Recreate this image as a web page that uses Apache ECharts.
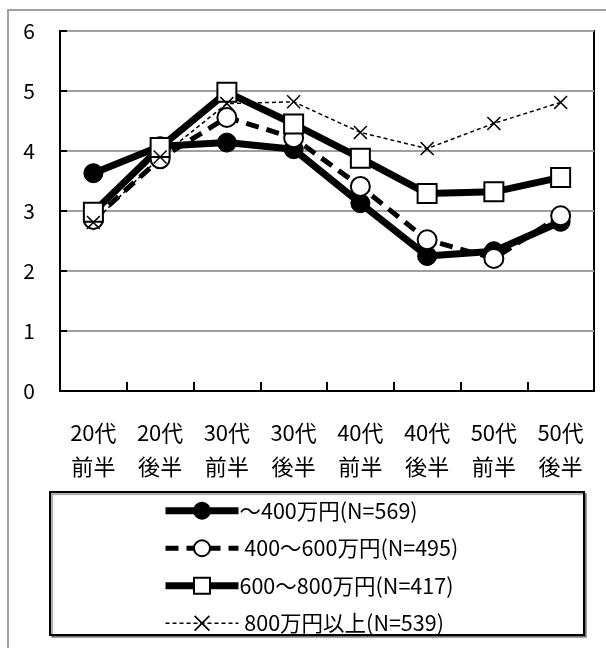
<!DOCTYPE html>
<html><head><meta charset="utf-8">
<script src="https://cdn.jsdelivr.net/npm/echarts@6/dist/echarts.min.js"></script>
<style>html,body{margin:0;padding:0;background:#fff}#c{width:606px;height:648px}</style>
</head><body><div id="c"></div>
<script>
const categories = ['20代\n前半','20代\n後半','30代\n前半','30代\n後半','40代\n前半','40代\n後半','50代\n前半','50代\n後半'];
const seriesNames = ['～400万円(N=569)',' 400～600万円(N=495)','600～800万円(N=417)',' 800万円以上(N=539)'];
const s1 = [3.63, 4.08, 4.14, 4.03, 3.13, 2.25, 2.33, 2.82];
const s2 = [2.86, 3.87, 4.56, 4.22, 3.41, 2.52, 2.21, 2.92];
const s3 = [2.98, 4.06, 4.98, 4.45, 3.88, 3.29, 3.32, 3.56];
const s4 = [2.81, 3.90, 4.79, 4.82, 4.31, 4.04, 4.46, 4.81];
const yTicks = [0,1,2,3,4,5,6];

const FONT = '"Noto Sans CJK JP", "Noto Sans", sans-serif';
const xPath = 'path://M0,1.5L1.5,0L10,8.5L18.5,0L20,1.5L11.5,10L20,18.5L18.5,20L10,11.5L1.5,20L0,18.5L8.5,10Z';

const chart = echarts.init(document.getElementById('c'), null, {renderer:'canvas'});
chart.setOption({
  animation:false,
  backgroundColor:'#fff',
  textStyle:{fontFamily:FONT, color:'#000'},
  graphic:[
    {type:'rect', shape:{x:8,y:10,width:700,height:700}, style:{fill:'none', stroke:'#a0a0a0', lineWidth:2}, z:-1},
    {type:'rect', shape:{x:50,y:492,width:534,height:143}, style:{fill:'#fff', stroke:'#000', lineWidth:2, shadowColor:'rgba(0,0,0,0.35)', shadowOffsetX:2, shadowOffsetY:2, shadowBlur:1}, z:-1}
  ],
  grid:{left:60, top:31, width:534, height:360, show:true, borderColor:'#000', borderWidth:2, backgroundColor:'transparent'},
  legend:{
    orient:'vertical', left:162, top:500, padding:0, itemGap:16, itemWidth:73, itemHeight:20,
    data: seriesNames,
    textStyle:{fontFamily:FONT, fontSize:21.5, color:'#000', padding:[0,0,0,-4]},
    lineStyle:{width:'inherit', type:'inherit', color:'inherit'}
  },
  xAxis:{
    type:'category', data:categories, boundaryGap:true,
    axisLine:{lineStyle:{color:'#000', width:2}},
    axisTick:{show:true, inside:true, length:9, lineStyle:{color:'#000', width:2}},
    axisLabel:{color:'#000', fontSize:22, lineHeight:34, margin:25, fontFamily:FONT, interval:0},
    splitLine:{show:false}
  },
  yAxis:{
    type:'value', min:yTicks[0], max:yTicks[yTicks.length-1], interval:1,
    axisLine:{show:true, lineStyle:{color:'#000', width:2}},
    axisTick:{show:true, inside:true, length:7, lineStyle:{color:'#000', width:2}},
    axisLabel:{color:'#000', fontSize:21, margin:25, fontFamily:FONT},
    splitLine:{show:true, lineStyle:{color:'#a0a0a0', width:2}}
  },
  series:[
    {name:seriesNames[0], type:'line', data:s1, symbol:'circle', symbolSize:19,
      lineStyle:{color:'#000', width:7}, itemStyle:{color:'#000', borderColor:'#000', borderWidth:1}},
    {name:seriesNames[1], type:'line', data:s2, symbol:'circle', symbolSize:19,
      lineStyle:{color:'#000', width:5, type:[13,8]}, itemStyle:{color:'#fff', borderColor:'#000', borderWidth:2}},
    {name:seriesNames[2], type:'line', data:s3, symbol:'rect', symbolSize:19,
      lineStyle:{color:'#000', width:7}, itemStyle:{color:'#fff', borderColor:'#000', borderWidth:2}},
    {name:seriesNames[3], type:'line', data:s4, symbol:xPath, symbolSize:14,
      lineStyle:{color:'#000', width:1.5, type:[4,3]}, itemStyle:{color:'#000', borderWidth:0}}
  ]
});
</script></body></html>
